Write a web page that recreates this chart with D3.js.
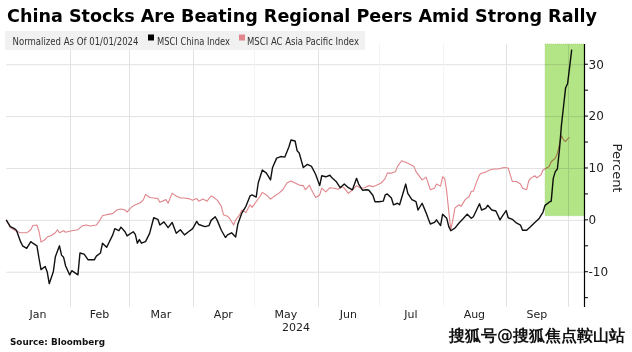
<!DOCTYPE html>
<html>
<head>
<meta charset="utf-8">
<script src="https://cdn.jsdelivr.net/npm/d3@7"></script>
<style>
  body { margin: 0; background: #fff; }
  svg { display: block; }
  text { font-family: "DejaVu Sans", sans-serif; }
</style>
</head>
<body>
<div id="chart"></div>
<script>
//////////////////////////////////////////////////////////////////////
// Data (% change since 01/01/2024)
//////////////////////////////////////////////////////////////////////
const monthLabels = ['Jan', 'Feb', 'Mar', 'Apr', 'May', 'Jun', 'Jul', 'Aug', 'Sep'];
const yearLabel = '2024';
const yTickLabels = [-10, 0, 10, 20, 30];
const yMinorTicks = [-15, -5, 5, 15, 25];

const chinaDates = [
  '01-01','01-03','01-05','01-06','01-08','01-09','01-11','01-13','01-14','01-16',
  '01-17','01-18','01-20','01-21','01-22','01-24','01-25','01-27','01-28','01-29',
  '01-30','02-01','02-02','02-05','02-06','02-08','02-10','02-13','02-14','02-16',
  '02-17','02-19','02-20','02-22','02-23','02-25','02-26','02-28','02-29','03-03',
  '03-04','03-05','03-06','03-07','03-09','03-11','03-13','03-15','03-16','03-18',
  '03-20','03-22','03-24','03-26','03-28','03-30','04-01','04-03','04-04','04-07',
  '04-09','04-10','04-12','04-13','04-15','04-17','04-18','04-20','04-22','04-23',
  '04-25','04-27','04-29','04-30','05-02','05-03','05-05','05-07','05-09','05-10',
  '05-12','05-14','05-16','05-18','05-19','05-21','05-22','05-23','05-25','05-27',
  '05-29','05-31','06-02','06-03','06-05','06-07','06-08','06-10','06-12','06-14',
  '06-16','06-18','06-20','06-21','06-23','06-25','06-26','06-28','06-29','07-01',
  '07-03','07-04','07-05','07-07','07-08','07-10','07-11','07-14','07-15','07-17',
  '07-19','07-20','07-22','07-24','07-25','07-26','07-28','07-29','07-31','08-01',
  '08-03','08-04','08-05','08-07','08-09','08-11','08-13','08-15','08-16','08-19',
  '08-20','08-22','08-23','08-25','08-27','08-29','08-30','09-01','09-02','09-04',
  '09-06','09-08','09-09','09-11','09-13','09-15','09-17','09-19','09-20','09-22',
  '09-23','09-24','09-25','09-26','09-27','09-28','09-29','09-30','10-01','10-02',
  '10-03'
];
const chinaValues = [
  0, -1.3, -1.7, -2, -4.2, -5, -5.5, -4.2, -4.5, -5,
  -7.4, -9.6, -9, -10, -12.3, -10, -7.1, -5, -6.8, -7.2,
  -8.9, -10.6, -9.8, -10.6, -6.4, -6.6, -7.7, -7.7, -7, -6.4,
  -4.5, -5.3, -4.5, -2.9, -1.7, -2.1, -1.4, -2.3, -3.1, -2.3,
  -2.8, -4.5, -3.8, -4.5, -4.2, -2.6, 0.4, 0.1, -1, -0.4,
  -1.5, -0.5, -2.6, -1.9, -2.9, -2.3, -1.7, -0.3, -0.9, -1.3,
  -1.1, -0.1, 0.6, -0.1, -2, -3.4, -2.9, -2.5, -3.3, -0.9,
  1.3, 2.6, 4.6, 4.8, 4.4, 7.1, 9.6, 9, 7.7, 10.1,
  11.9, 12.2, 12.1, 14.1, 15.4, 15.2, 13.3, 12.9, 10.1, 10.7,
  10.3, 8.8, 6.6, 8.5, 8.3, 8.6, 8.1, 7.4, 6.2, 6.9,
  6.2, 5.8, 8, 6.9, 5.7, 5.8, 5.7, 4.7, 3.5, 3.5,
  3.6, 4.8, 5, 4.2, 2.9, 3.2, 2.9, 6.9, 5.1, 3.9,
  3.5, 1.9, 3.2, 1.3, 0.2, -0.8, -0.5, 0, -1.1, 1.1,
  0.3, -1.3, -2.1, -1.6, -0.6, 0.2, 1.1, 0.3, 0.6, 3.1,
  1.9, 2.2, 2.8, 1.9, 1.7, 0, 0.6, 1.8, 0.4, 0.1,
  -0.6, -1, -2, -2, -1.3, -0.5, 0.2, 1.5, 2.8, 3.4,
  3.6, 8, 9.3, 9.8, 13.5, 18.3, 21.8, 25.4, 26.3, 29.5,
  32.8
];

const apacDates = [
  '01-01','01-03','01-06','01-08','01-11','01-13','01-14','01-16','01-17','01-18',
  '01-20','01-21','01-23','01-25','01-26','01-27','01-29','01-30','02-02','02-05',
  '02-07','02-09','02-11','02-14','02-15','02-17','02-19','02-22','02-24','02-26',
  '02-28','02-29','03-02','03-04','03-06','03-07','03-08','03-09','03-11','03-13',
  '03-15','03-16','03-19','03-20','03-22','03-24','03-26','03-28','03-30','04-01',
  '04-03','04-04','04-06','04-08','04-10','04-11','04-13','04-15','04-16','04-18',
  '04-19','04-21','04-22','04-24','04-25','04-27','04-29','04-30','05-02','05-04',
  '05-05','05-07','05-09','05-11','05-13','05-15','05-17','05-19','05-21','05-23',
  '05-25','05-26','05-28','05-29','05-31','06-02','06-03','06-05','06-07','06-09',
  '06-11','06-13','06-14','06-16','06-18','06-20','06-22','06-24','06-26','06-28',
  '06-30','07-02','07-04','07-05','07-07','07-09','07-10','07-12','07-14','07-16',
  '07-18','07-19','07-22','07-24','07-26','07-28','07-29','07-31','08-01','08-02',
  '08-03','08-04','08-05','08-06','08-07','08-09','08-10','08-12','08-14','08-15',
  '08-16','08-17','08-19','08-20','08-22','08-24','08-26','08-28','08-30','08-31',
  '09-02','09-04','09-06','09-08','09-09','09-11','09-12','09-13','09-15','09-16',
  '09-18','09-19','09-22','09-23','09-25','09-26','09-28','09-29','09-30','10-01',
  '10-02'
];
const apacValues = [
  0, -1.5, -2.2, -2.5, -2.5, -1.9, -1.1, -1, -2.2, -4.3,
  -3.8, -3.3, -3, -2.5, -1.9, -2.5, -2.1, -2.4, -2.1, -1.9,
  -1.2, -1, -1.2, -1, -0.5, 0.8, 1, 1.2, 1.9, 2.1,
  1.9, 1.5, 2.4, 2.9, 3.2, 3.5, 3.9, 4.9, 4.3, 4.2,
  4.1, 3.4, 3.9, 3.2, 5.1, 4.6, 4.2, 4.2, 4.1, 3.8,
  4.1, 3.6, 4, 3.6, 4.6, 4.4, 3.8, 2.6, 1, 0.7,
  0.3, -1, 0, 1, 1.9, 1.4, 2.9, 2.4, 3.5, 4.6,
  5.3, 4.8, 4, 4.6, 5.1, 5.8, 7.1, 7.5, 7.1, 6.7,
  6.6, 5.8, 6.7, 5.8, 4.3, 4.8, 6.1, 5.4, 6.2, 6.1,
  5.9, 6.4, 6.1, 5.1, 5.8, 6.6, 6.1, 6.2, 6.6, 6.4,
  6.7, 7.1, 8, 9, 9, 9.3, 10.3, 11.4, 11.1, 10.7,
  10.3, 9.3, 7.7, 8.2, 5.8, 6.1, 6.9, 6.5, 8.3, 8,
  5.5, 1.6, -1.9, 0, 2.3, 2.9, 2.6, 3.9, 4.5, 5.5,
  5.5, 6.7, 8.7, 9, 9.2, 9.6, 9.8, 9.8, 10, 10.1,
  10, 7.4, 7.4, 6.9, 6.1, 5.8, 7.5, 8, 8.5, 8.1,
  8.7, 9.6, 10.3, 11.2, 11.9, 12.8, 16.2, 15.4, 15.1, 15.6,
  15.9
];

// Rally highlight window
const highlightStart = '09-20';
const highlightLow = 0.8;

//////////////////////////////////////////////////////////////////////
// Chart
//////////////////////////////////////////////////////////////////////
function drawChart() {
    const W = 632, H = 352;
    const parse = d3.timeParse('%Y-%m-%d');
    const toDate = md => parse('2024-' + md);

    const svg = d3.select('#chart')
        .append('svg')
        .attr('width', W)
        .attr('height', H);

    // Scales: x runs Jan 1 -> Oct 9, axis sits on the right edge
    const x = d3.scaleTime()
        .domain([toDate('01-01'), toDate('10-09')])
        .range([6.2, 584]);
    const y = d3.scaleLinear()
        .domain([-16.8, 33.9])
        .range([307, 44]);

    // Horizontal gridlines
    svg.append('g')
        .selectAll('line')
        .data(yTickLabels)
        .join('line')
        .attr('x1', x.range()[0])
        .attr('x2', x.range()[1])
        .attr('y1', d => y(d) + 0.5)
        .attr('y2', d => y(d) + 0.5)
        .attr('stroke', '#e2e2e2')
        .attr('stroke-width', 1);

    // Vertical gridlines on month boundaries (some are barely visible)
    const faint = [4, 6, 7];
    const monthStarts = d3.range(1, 10).map(m => new Date(2024, m, 1));
    svg.append('g')
        .selectAll('line')
        .data(monthStarts)
        .join('line')
        .attr('x1', d => Math.round(x(d)) + 0.5)
        .attr('x2', d => Math.round(x(d)) + 0.5)
        .attr('y1', y.range()[1])
        .attr('y2', y.range()[0])
        .attr('stroke', d => faint.includes(d.getMonth()) ? '#f4f4f4' : '#e2e2e2')
        .attr('stroke-width', 1);

    // Legend box (drawn over the gridlines)
    const legend = svg.append('g');
    legend.append('rect')
        .attr('x', 5).attr('y', 31)
        .attr('width', 360).attr('height', 19)
        .attr('fill', '#f1f1f1');
    legend.append('text')
        .attr('x', 12.5).attr('y', 44.5)
        .attr('font-size', 10)
        .attr('fill', '#333')
        .attr('textLength', 126)
        .attr('lengthAdjust', 'spacingAndGlyphs')
        .text('Normalized As Of 01/01/2024');
    legend.append('rect')
        .attr('x', 148).attr('y', 34.5)
        .attr('width', 6).attr('height', 6)
        .attr('fill', '#000');
    legend.append('text')
        .attr('x', 157).attr('y', 44.5)
        .attr('font-size', 10)
        .attr('fill', '#333')
        .attr('textLength', 73)
        .attr('lengthAdjust', 'spacingAndGlyphs')
        .text('MSCI China Index');
    legend.append('rect')
        .attr('x', 239).attr('y', 34.5)
        .attr('width', 6).attr('height', 6)
        .attr('fill', '#e0868c');
    legend.append('text')
        .attr('x', 247).attr('y', 44.5)
        .attr('font-size', 10)
        .attr('fill', '#333')
        .attr('textLength', 112)
        .attr('lengthAdjust', 'spacingAndGlyphs')
        .text('MSCI AC Asia Pacific Index');

    // Lines
    const line = d3.line()
        .x(d => x(d.date))
        .y(d => y(d.value));

    const china = chinaDates.map((d, i) => ({ date: toDate(d), value: chinaValues[i] }));
    const apac = apacDates.map((d, i) => ({ date: toDate(d), value: apacValues[i] }));

    svg.append('path')
        .datum(apac)
        .attr('fill', 'none')
        .attr('stroke', '#e0868c')
        .attr('stroke-width', 1.1)
        .attr('stroke-linejoin', 'round')
        .attr('d', line);

    svg.append('path')
        .datum(china)
        .attr('fill', 'none')
        .attr('stroke', '#111')
        .attr('stroke-width', 1.4)
        .attr('stroke-linejoin', 'round')
        .attr('d', line);

    // Green highlight of the rally, multiplied over the lines
    svg.append('rect')
        .attr('x', x(toDate(highlightStart)))
        .attr('y', y.range()[1])
        .attr('width', x.range()[1] - x(toDate(highlightStart)))
        .attr('height', y(highlightLow) - y.range()[1])
        .attr('fill', '#b3e486')
        .attr('stroke', '#9fd474')
        .attr('stroke-width', 0.8)
        .attr('stroke-dasharray', '1,1')
        .style('mix-blend-mode', 'multiply');

    // Right-hand axis
    const axis = svg.append('g')
        .attr('transform', `translate(${x.range()[1]},0)`);
    axis.append('line')
        .attr('x1', 0.5).attr('x2', 0.5)
        .attr('y1', y.range()[1]).attr('y2', y.range()[0])
        .attr('stroke', '#000')
        .attr('stroke-width', 1.2);
    axis.selectAll('.tick')
        .data(yTickLabels.concat(yMinorTicks))
        .join('line')
        .attr('x1', 0.5).attr('x2', 4)
        .attr('y1', d => y(d)).attr('y2', d => y(d))
        .attr('stroke', '#000');
    axis.selectAll('.tick-label')
        .data(yTickLabels)
        .join('text')
        .attr('x', 4.5)
        .attr('y', d => y(d))
        .attr('dy', '0.36em')
        .attr('font-size', 12)
        .attr('fill', '#222')
        .attr('font-family', 'Roboto, sans-serif')
        .text(d => d < 0 ? '-' + Math.abs(d) : d);

    svg.append('text')
        .attr('transform', `translate(613,168) rotate(90)`)
        .attr('text-anchor', 'middle')
        .attr('font-size', 13)
        .attr('font-family', 'Roboto, sans-serif')
        .attr('fill', '#222')
        .text('Percent');

    // Month labels centred in each month
    svg.append('g')
        .selectAll('text')
        .data(monthLabels)
        .join('text')
        .attr('x', (d, i) => (x(new Date(2024, i, 1)) + x(new Date(2024, i + 1, 1))) / 2)
        .attr('y', 318)
        .attr('text-anchor', 'middle')
        .attr('font-size', 11)
        .attr('font-family', 'Roboto, sans-serif')
        .attr('fill', '#222')
        .text(d => d);

    svg.append('text')
        .attr('x', 296)
        .attr('y', 331)
        .attr('text-anchor', 'middle')
        .attr('font-size', 11)
        .attr('font-family', 'Roboto, sans-serif')
        .attr('fill', '#222')
        .text(yearLabel);

    // Title and source
    svg.append('text')
        .attr('x', 7)
        .attr('y', 21.5)
        .attr('font-size', 18)
        .attr('font-weight', 'bold')
        .attr('font-family', '"Liberation Sans", Arial, sans-serif')
        .attr('fill', '#000')
        .attr('textLength', 590)
        .attr('lengthAdjust', 'spacingAndGlyphs')
        .text('China Stocks Are Beating Regional Peers Amid Strong Rally');

    svg.append('text')
        .attr('x', 10)
        .attr('y', 345)
        .attr('font-size', 9.5)
        .attr('font-weight', 'bold')
        .attr('fill', '#111')
        .attr('textLength', 95)
        .attr('lengthAdjust', 'spacingAndGlyphs')
        .text('Source: Bloomberg');

    // Repost watermark
    svg.append('text')
        .attr('x', 449)
        .attr('y', 341)
        .attr('font-size', 16)
        .attr('font-family', '"Noto Sans CJK SC", sans-serif')
        .attr('font-weight', 'bold')
        .attr('fill', '#111')
        .attr('stroke', '#fff')
        .attr('stroke-width', 2)
        .attr('paint-order', 'stroke')
        .attr('textLength', 176)
        .attr('lengthAdjust', 'spacingAndGlyphs')
        .text('搜狐号@搜狐焦点鞍山站');
}

document.addEventListener('DOMContentLoaded', drawChart);
</script>
</body>
</html>
